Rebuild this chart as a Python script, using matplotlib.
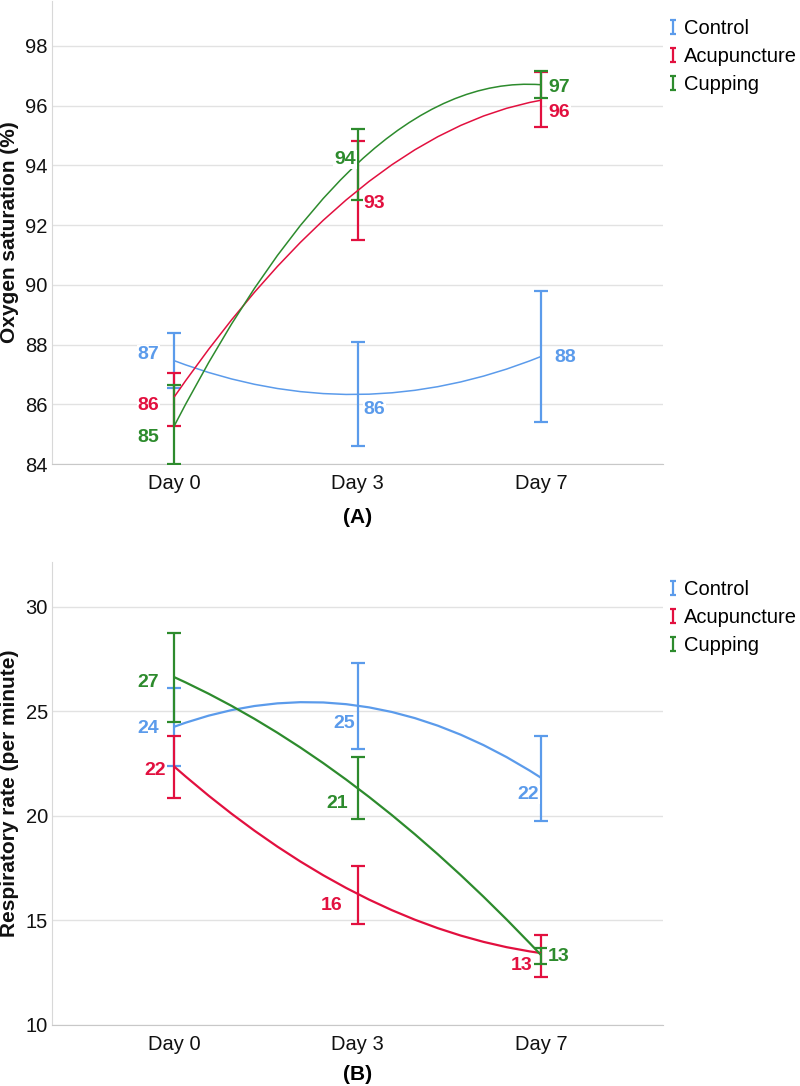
import matplotlib
matplotlib.use("Agg")
import matplotlib.pyplot as plt
from matplotlib.path import Path
from matplotlib.patches import PathPatch
from matplotlib.lines import Line2D

plt.rcParams['font.family'] = ['Liberation Sans', 'DejaVu Sans']

days = ["Day 0", "Day 3", "Day 7"]
groups = ["Control", "Acupuncture", "Cupping"]
colors = ["#5b9beb", "#e2103f", "#2d8b2d"]

# Panel A: oxygen saturation (%), mean and error bar limits
spo2_mean = [[87.46, 86.33, 87.60],
             [86.25, 93.16, 96.18],
             [85.28, 94.07, 96.70]]
spo2_low = [[86.56, 84.61, 85.41],
            [85.27, 91.50, 95.30],
            [84.00, 92.84, 96.27]]
spo2_high = [[88.40, 88.10, 89.80],
             [87.06, 94.80, 97.12],
             [86.65, 95.22, 97.15]]

# Panel B: respiratory rate (per minute)
rr_mean = [[24.27, 25.28, 21.83],
           [22.36, 16.27, 13.44],
           [26.64, 21.33, 13.35]]
rr_low = [[22.39, 23.21, 19.76],
          [20.85, 14.85, 12.31],
          [24.51, 19.84, 12.92]]
rr_high = [[26.14, 27.31, 23.83],
           [23.84, 17.62, 14.29],
           [28.74, 22.84, 13.67]]

# label offsets in pixels (dx, dy) per group / day
spo2_off = [[(-15, 6), (6, -15), (13, -1)],
            [(-15, -9), (6, -13), (7, -12)],
            [(-15, -12), (-2, 4), (7, -3)]]
rr_off = [[(-15, -2), (-3, -18), (-2, -17)],
          [(-8, -4), (-15, -12), (-8, -12)],
          [(-15, -5), (-10, -15), (7, -2)]]

IBAR = Path([(-0.4, -1), (0.4, -1), (0, -1), (0, 1), (-0.4, 1), (0.4, 1)],
            [Path.MOVETO, Path.LINETO, Path.MOVETO, Path.LINETO, Path.MOVETO, Path.LINETO])


def draw_panel(ax, mean, low, high, offs, ylim, ticks, ylabel, caption, cap_y, lw):
    x = list(range(len(days)))
    for g in range(len(groups)):
        m = mean[g]
        c = colors[g]
        err = [[m[i] - low[g][i] for i in x], [high[g][i] - m[i] for i in x]]
        ax.errorbar(x, m, yerr=err, fmt='none', ecolor=c, elinewidth=1.6,
                    capsize=5, capthick=1.6, zorder=2 + g)
        # quadratic through the three means as a bezier
        ctrl = 2 * m[1] - (m[0] + m[2]) / 2
        path = Path([(x[0], m[0]), (x[1], ctrl), (x[2], m[2])],
                    [Path.MOVETO, Path.CURVE3, Path.CURVE3])
        ax.add_patch(PathPatch(path, facecolor='none', edgecolor=c, lw=lw, zorder=5 + g))
        for i in x:
            dx, dy = offs[g][i]
            ax.annotate(f"{round(m[i])}", (x[i], m[i]), xytext=(dx, dy),
                        textcoords='offset pixels', color=c, fontsize=14,
                        fontweight='bold', va='center',
                        ha='right' if dx < 0 else 'left', zorder=10,
                        bbox=dict(boxstyle='square,pad=0.05', fc='white', ec='none'))
    ax.set_xlim(-0.667, 2.667)
    ax.set_ylim(*ylim)
    ax.set_yticks(ticks)
    ax.set_xticks(x)
    ax.set_xticklabels(days)
    ax.tick_params(length=0, labelsize=14.5, colors='#111111')
    ax.tick_params(axis='x', pad=7)
    ax.tick_params(axis='y', pad=3)
    ax.grid(axis='y', color='#e2e2e2', lw=1)
    ax.set_axisbelow(True)
    for s in ['top', 'right']:
        ax.spines[s].set_visible(False)
    ax.spines['left'].set_color('#d8d8d8')
    ax.spines['bottom'].set_color('#c8c8c8')
    ax.set_ylabel(ylabel, fontsize=15, fontweight='bold', color='#111111')
    ax.yaxis.set_label_coords(-0.054, 0.5)
    ax.text(1, cap_y, caption, transform=ax.get_xaxis_transform(), ha='center',
            va='center', fontsize=15, fontweight='bold')
    handles = [Line2D([], [], marker=IBAR, ls='none', color=c, markersize=10,
                      markeredgewidth=1.6) for c in colors]
    ax.legend(handles, groups, loc='upper left', bbox_to_anchor=(1.0, 0.965),
              frameon=False, fontsize=14.5, handlelength=0.8, handletextpad=0.15,
              labelspacing=0.45, borderpad=0, borderaxespad=0.1)


fig = plt.figure(figsize=(8, 10.86), dpi=100)
ax1 = fig.add_axes([0.065, 0.5727, 0.764, 0.4263])
ax2 = fig.add_axes([0.065, 0.0562, 0.764, 0.4263])

draw_panel(ax1, spo2_mean, spo2_low, spo2_high, spo2_off, (84, 99.5),
           [84, 86, 88, 90, 92, 94, 96, 98], "Oxygen saturation (%)", "(A)", -0.115, 1.1)
draw_panel(ax2, rr_mean, rr_low, rr_high, rr_off, (10, 32.15),
           [10, 15, 20, 25, 30], "Respiratory rate (per minute)", "(B)", -0.108, 1.6)

fig.savefig("out.png", dpi=100)
